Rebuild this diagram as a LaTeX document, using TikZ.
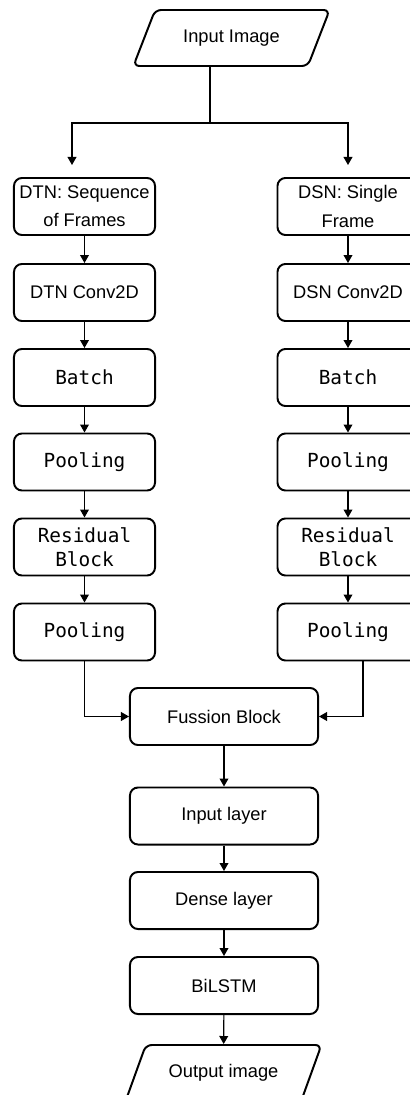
\documentclass[tikz,border=0pt]{standalone}
\usepackage{fontspec}
\setmainfont{Liberation Sans}
\setmonofont{DejaVu Sans Mono}
\usetikzlibrary{shapes.geometric,arrows.meta}

\begin{document}
\begin{tikzpicture}[x=0.025cm,y=-0.025cm,
  box/.style={draw,line width=1.4pt,rounded corners=0.2cm,minimum width=3.525cm,minimum height=1.425cm,inner sep=0pt,align=center,font=\fontsize{13}{20}\selectfont},
  monobox/.style={box,font=\ttfamily\fontsize{13.8}{17}\selectfont},
  wide/.style={box,minimum width=4.7cm},
  io/.style={draw,line width=1.4pt,rounded corners=0.15cm,trapezium,trapezium left angle=50,trapezium right angle=130,trapezium stretches=true,minimum width=4.925cm,minimum height=1.4cm,inner sep=0pt,font=\fontsize{13}{20}\selectfont},
  arr/.style={line width=0.8pt,-{Triangle[width=0.22cm,length=0.2cm]}}]
\useasboundingbox (0,0) rectangle (409,1095);

\node[io] (inp) at (231.5,38) {Input Image};

% two branches
\node[box] (l1) at (84.5,206.5) {DTN: Sequence\\of Frames};
\node[box] (r1) at (348,206.5) {DSN: Single\\Frame};
\node[box] (l2) at (84.5,292.5) {DTN Conv2D};
\node[box] (r2) at (348,292.5) {DSN Conv2D};
\foreach \i/\y/\t in {3/377.5/Batch, 4/462/Pooling, 5/547/{Residual\\Block}, 6/632/Pooling}
{
\node[monobox] (l\i) at (84.5,\y) {\t};
\node[monobox] (r\i) at (348,\y) {\t};
}
\foreach \a/\b in {1/2,2/3,3/4,4/5,5/6}
{
\draw[arr] (l\a) -- (l\b);
\draw[arr] (r\a) -- (r\b);
}

% split below the input
\coordinate (split) at (210,123);
\coordinate (ldrop) at (72,165);
\coordinate (rdrop) at (348,165);
\draw[line width=0.8pt] (split |- inp.south) -- (split);
\draw[arr] (split) -| (ldrop);
\draw[arr] (split) -| (rdrop);

% merged part
\node[wide] (fus) at (224,716.5) {Fussion Block};
\node[wide] (inl) at (224,816) {Input layer};
\node[wide] (den) at (224,900.5) {Dense layer};
\node[wide] (bil) at (224,985.5) {BiLSTM};
\node[io] (out) at (223.5,1073) {Output image};

\draw[arr] (l6.south) |- (fus.west);
\draw[arr] ([xshift=0.375cm]r6.south) |- (fus.east);
\draw[arr] (fus) -- (inl);
\draw[arr] (inl) -- (den);
\draw[arr] (den) -- (bil);
\draw[arr] (bil) -- (out);
\end{tikzpicture}
\end{document}
